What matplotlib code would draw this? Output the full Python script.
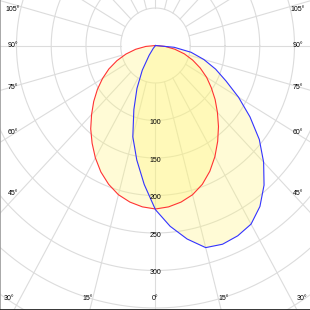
import matplotlib.pyplot as plt
import numpy as np

plt.rcParams['font.family'] = ['Liberation Sans', 'DejaVu Sans']

# angles (deg from nadir) and intensities (cd)
angles = [-90, -85, -80, -75, -70, -65, -60, -55, -50, -45, -40, -35, -30, -25, -20, -15, -10, -5,
          0, 5, 10, 15, 20, 25, 30, 35, 40, 45, 50, 55, 60, 65, 70, 75, 80, 85, 90]
c0_c180 = [0, 14, 29, 44, 59, 74, 88, 102, 116, 130, 145, 159, 173, 186, 197, 206, 212, 216,
           218, 216, 212, 206, 197, 185, 171, 156, 141, 126, 112, 98, 85, 71, 57, 43, 28, 14, 0]
c90_c270 = [0, 0, 0, 0, 0, 0, 0, 0, 0, 0, 5, 16, 38, 63, 91, 126, 155, 186,
            219, 242, 262, 279, 282, 280, 275, 262, 243, 220, 195, 166, 138, 112, 92, 72, 52, 27, 0]
ring_labels = [100, 150, 200, 250, 300]
angle_ticks = [0, 15, 30, 45, 60, 75, 90, 105]

fig = plt.figure(figsize=(3.1, 3.1), dpi=100)
ax = fig.add_axes([0, 0, 1, 1])
ax.set_xlim(-223.7, 222.3)
ax.set_ylim(-352.7, 60.7)
ax.set_aspect('auto')
ax.set_xticks([])
ax.set_yticks([])

# grid: rings every 50 cd, spokes every 15 deg starting at the first ring
t = np.linspace(0, 2 * np.pi, 400)
for r in range(50, 501, 50):
    ax.plot(r * np.cos(t), r * np.sin(t), color='#dcdcdc', lw=0.8, zorder=1)
for a in range(0, 360, 15):
    ar = np.radians(a)
    ax.plot([50 * np.sin(ar), 600 * np.sin(ar)], [-50 * np.cos(ar), -600 * np.cos(ar)],
            color='#dcdcdc', lw=0.8, zorder=1)

g = np.radians(angles)
for vals, col in [(c0_c180, '#ff3333'), (c90_c270, '#3333ff')]:
    v = np.array(vals)
    x = v * np.sin(g)
    y = -v * np.cos(g)
    ax.fill(x, y, color='#fff578', alpha=0.3, lw=0, zorder=2)
    ax.plot(x, y, color=col, lw=0.8, zorder=3)

for v in ring_labels:
    ax.text(0, -v - 3, str(v), fontsize=5, ha='center', va='center', zorder=4)

# angle labels along the frame
for a in angle_ticks:
    ar = np.radians(a)
    if a >= 45:
        yy = -208.6 / np.tan(ar) * 0.93 - 4 if a != 90 else 0
        for s in (-1, 1):
            ax.text(s * 205, yy, f'{a}°', fontsize=5, ha='center', va='center', zorder=4)
    else:
        for s in ((-1, 1) if a else (1,)):
            xx = s * 254 * np.tan(ar) / 0.695
            ax.text(xx, -338, f'{a}°', fontsize=5, ha='center', va='center', zorder=4)

for k in ('top', 'right'):
    ax.spines[k].set_visible(False)
ax.spines['left'].set_color('#999999')
ax.spines['left'].set_linewidth(1.2)
ax.spines['bottom'].set_color('#222222')
ax.spines['bottom'].set_linewidth(2)

fig.savefig('out.png', dpi=100)
